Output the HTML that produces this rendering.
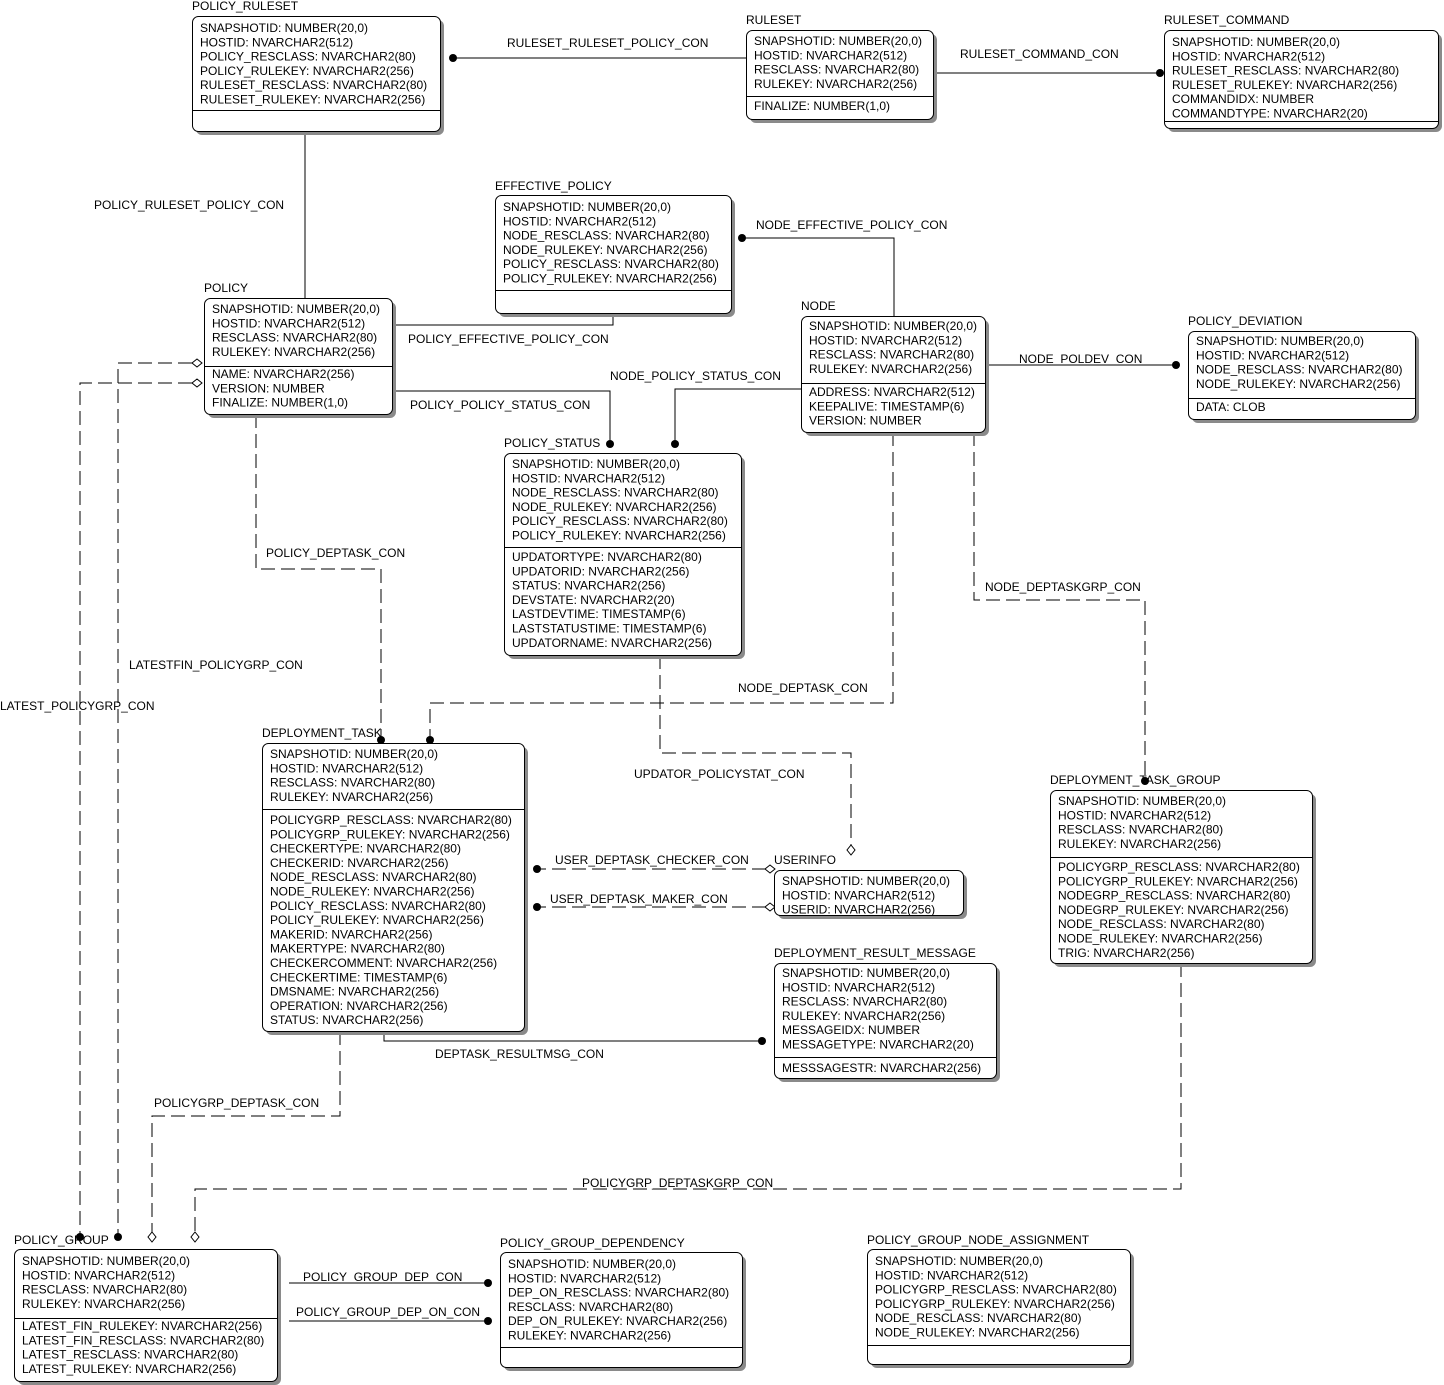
<!DOCTYPE html>
<html><head><meta charset="utf-8"><style>
html,body{margin:0;padding:0;background:#fff}
svg{display:block}
text{font-family:"Liberation Sans",Arial,sans-serif;font-size:12px;fill:#000}
.sh{fill:#8a8a8a}
.bx{fill:#fff;stroke:#000;stroke-width:1}
.ln{stroke:#000;stroke-width:1;fill:none}
.ds{stroke:#000;stroke-width:1;fill:none;stroke-dasharray:14 6}
</style></head><body>
<svg width="1444" height="1385" viewBox="0 0 1444 1385" xmlns="http://www.w3.org/2000/svg">

<!-- connectors -->
<path class="ln" d="M453,58H746"/><circle cx="453" cy="58" r="4"/>
<text x="507" y="47">RULESET_RULESET_POLICY_CON</text>
<path class="ln" d="M933,73H1160"/><circle cx="1160" cy="73" r="4"/>
<text x="960" y="58">RULESET_COMMAND_CON</text>
<path class="ln" d="M305,131V298"/>
<text x="94" y="209">POLICY_RULESET_POLICY_CON</text>
<path class="ln" d="M894,316V238H742"/><circle cx="742" cy="238" r="4"/>
<text x="756" y="229">NODE_EFFECTIVE_POLICY_CON</text>
<path class="ln" d="M392,325H613V313"/>
<text x="408" y="343">POLICY_EFFECTIVE_POLICY_CON</text>
<path class="ln" d="M985,365H1176"/><circle cx="1176" cy="365" r="4"/>
<text x="1019" y="363">NODE_POLDEV_CON</text>
<path class="ln" d="M801,389H675V444"/><circle cx="675" cy="444" r="4"/>
<text x="610" y="380">NODE_POLICY_STATUS_CON</text>
<path class="ln" d="M392,391H610V444"/><circle cx="610" cy="444" r="4"/>
<text x="410" y="409">POLICY_POLICY_STATUS_CON</text>
<path class="ds" d="M256,414V569H381V740"/><circle cx="381" cy="740" r="4"/>
<text x="266" y="557">POLICY_DEPTASK_CON</text>
<path class="ds" d="M974,432V600H1145V781"/><circle cx="1145" cy="781" r="4"/>
<text x="985" y="591">NODE_DEPTASKGRP_CON</text>
<path class="ds" d="M893,432V703H430V740"/><circle cx="430" cy="740" r="4"/>
<text x="738" y="692">NODE_DEPTASK_CON</text>
<path class="ds" d="M660,655V753H851V845"/><path class="bx" d="M851,845l4,5l-4,5l-4,-5z"/>
<text x="634" y="778">UPDATOR_POLICYSTAT_CON</text>
<path class="ds" d="M766,869H537"/><circle cx="537" cy="869" r="4"/><path class="bx" d="M775,869l-5,-4l-5,4l5,4z"/>
<text x="555" y="864">USER_DEPTASK_CHECKER_CON</text>
<path class="ds" d="M766,907H537"/><circle cx="537" cy="907" r="4"/><path class="bx" d="M775,907l-5,-4l-5,4l5,4z"/>
<text x="550" y="903">USER_DEPTASK_MAKER_CON</text>
<path class="ln" d="M384,1031V1041H762"/><circle cx="762" cy="1041" r="4"/>
<text x="435" y="1058">DEPTASK_RESULTMSG_CON</text>
<path class="ds" d="M340,1031V1116H152V1232"/><path class="bx" d="M152,1232l4,5l-4,5l-4,-5z"/>
<text x="154" y="1107">POLICYGRP_DEPTASK_CON</text>
<path class="ds" d="M1181,963V1189H195V1232"/><path class="bx" d="M195,1232l4,5l-4,5l-4,-5z"/>
<text x="582" y="1187">POLICYGRP_DEPTASKGRP_CON</text>
<path class="ds" d="M192,363H118V1237"/><circle cx="118" cy="1237" r="4"/><path class="bx" d="M202,363l-5,-4l-5,4l5,4z"/>
<text x="129" y="669">LATESTFIN_POLICYGRP_CON</text>
<path class="ds" d="M192,383H80V1237"/><circle cx="80" cy="1237" r="4"/><path class="bx" d="M202,383l-5,-4l-5,4l5,4z"/>
<text x="0" y="710">LATEST_POLICYGRP_CON</text>
<path class="ln" d="M289,1283H488"/><circle cx="488" cy="1283" r="4"/>
<text x="303" y="1281">POLICY_GROUP_DEP_CON</text>
<path class="ln" d="M289,1321H488"/><circle cx="488" cy="1321" r="4"/>
<text x="296" y="1316">POLICY_GROUP_DEP_ON_CON</text>

<!-- POLICY_RULESET -->
<text x="192" y="10">POLICY_RULESET</text>
<rect class="sh" x="196" y="20" width="248" height="115" rx="6"/>
<rect class="bx" x="192.5" y="16.5" width="248" height="115" rx="6"/>
<path class="ln" d="M193,110.5H440"/>
<text x="200" y="32"><tspan x="200">SNAPSHOTID: NUMBER(20,0)</tspan><tspan x="200" dy="14.3">HOSTID: NVARCHAR2(512)</tspan><tspan x="200" dy="14.3">POLICY_RESCLASS: NVARCHAR2(80)</tspan><tspan x="200" dy="14.3">POLICY_RULEKEY: NVARCHAR2(256)</tspan><tspan x="200" dy="14.3">RULESET_RESCLASS: NVARCHAR2(80)</tspan><tspan x="200" dy="14.3">RULESET_RULEKEY: NVARCHAR2(256)</tspan></text>

<!-- RULESET -->
<text x="746" y="24">RULESET</text>
<rect class="sh" x="750" y="34" width="187" height="89" rx="6"/>
<rect class="bx" x="746.5" y="30.5" width="187" height="89" rx="6"/>
<path class="ln" d="M747,96.5H933"/>
<text x="754" y="45"><tspan x="754">SNAPSHOTID: NUMBER(20,0)</tspan><tspan x="754" dy="14.3">HOSTID: NVARCHAR2(512)</tspan><tspan x="754" dy="14.3">RESCLASS: NVARCHAR2(80)</tspan><tspan x="754" dy="14.3">RULEKEY: NVARCHAR2(256)</tspan></text>
<text x="754" y="110">FINALIZE: NUMBER(1,0)</text>

<!-- RULESET_COMMAND -->
<text x="1164" y="24">RULESET_COMMAND</text>
<rect class="sh" x="1168" y="34" width="274" height="98" rx="6"/>
<rect class="bx" x="1164.5" y="30.5" width="274" height="98" rx="6"/>
<path class="ln" d="M1165,121.5H1438"/>
<text x="1172" y="46"><tspan x="1172">SNAPSHOTID: NUMBER(20,0)</tspan><tspan x="1172" dy="14.3">HOSTID: NVARCHAR2(512)</tspan><tspan x="1172" dy="14.3">RULESET_RESCLASS: NVARCHAR2(80)</tspan><tspan x="1172" dy="14.3">RULESET_RULEKEY: NVARCHAR2(256)</tspan><tspan x="1172" dy="14.3">COMMANDIDX: NUMBER</tspan><tspan x="1172" dy="14.3">COMMANDTYPE: NVARCHAR2(20)</tspan></text>

<!-- EFFECTIVE_POLICY -->
<text x="495" y="190">EFFECTIVE_POLICY</text>
<rect class="sh" x="499" y="199" width="236" height="118" rx="6"/>
<rect class="bx" x="495.5" y="195.5" width="236" height="118" rx="6"/>
<path class="ln" d="M496,290.5H731"/>
<text x="503" y="211"><tspan x="503">SNAPSHOTID: NUMBER(20,0)</tspan><tspan x="503" dy="14.3">HOSTID: NVARCHAR2(512)</tspan><tspan x="503" dy="14.3">NODE_RESCLASS: NVARCHAR2(80)</tspan><tspan x="503" dy="14.3">NODE_RULEKEY: NVARCHAR2(256)</tspan><tspan x="503" dy="14.3">POLICY_RESCLASS: NVARCHAR2(80)</tspan><tspan x="503" dy="14.3">POLICY_RULEKEY: NVARCHAR2(256)</tspan></text>

<!-- POLICY -->
<text x="204" y="292">POLICY</text>
<rect class="sh" x="208" y="302" width="188" height="116" rx="6"/>
<rect class="bx" x="204.5" y="298.5" width="188" height="116" rx="6"/>
<path class="ln" d="M205,366.5H392"/>
<text x="212" y="313"><tspan x="212">SNAPSHOTID: NUMBER(20,0)</tspan><tspan x="212" dy="14.3">HOSTID: NVARCHAR2(512)</tspan><tspan x="212" dy="14.3">RESCLASS: NVARCHAR2(80)</tspan><tspan x="212" dy="14.3">RULEKEY: NVARCHAR2(256)</tspan></text>
<text x="212" y="378"><tspan x="212">NAME: NVARCHAR2(256)</tspan><tspan x="212" dy="14.3">VERSION: NUMBER</tspan><tspan x="212" dy="14.3">FINALIZE: NUMBER(1,0)</tspan></text>

<!-- NODE -->
<text x="801" y="310">NODE</text>
<rect class="sh" x="805" y="320" width="184" height="116" rx="6"/>
<rect class="bx" x="801.5" y="316.5" width="184" height="116" rx="6"/>
<path class="ln" d="M802,383.5H985"/>
<text x="809" y="330"><tspan x="809">SNAPSHOTID: NUMBER(20,0)</tspan><tspan x="809" dy="14.3">HOSTID: NVARCHAR2(512)</tspan><tspan x="809" dy="14.3">RESCLASS: NVARCHAR2(80)</tspan><tspan x="809" dy="14.3">RULEKEY: NVARCHAR2(256)</tspan></text>
<text x="809" y="396"><tspan x="809">ADDRESS: NVARCHAR2(512)</tspan><tspan x="809" dy="14.3">KEEPALIVE: TIMESTAMP(6)</tspan><tspan x="809" dy="14.3">VERSION: NUMBER</tspan></text>

<!-- POLICY_DEVIATION -->
<text x="1188" y="325">POLICY_DEVIATION</text>
<rect class="sh" x="1192" y="335" width="227" height="88" rx="6"/>
<rect class="bx" x="1188.5" y="331.5" width="227" height="88" rx="6"/>
<path class="ln" d="M1189,398.5H1415"/>
<text x="1196" y="345"><tspan x="1196">SNAPSHOTID: NUMBER(20,0)</tspan><tspan x="1196" dy="14.3">HOSTID: NVARCHAR2(512)</tspan><tspan x="1196" dy="14.3">NODE_RESCLASS: NVARCHAR2(80)</tspan><tspan x="1196" dy="14.3">NODE_RULEKEY: NVARCHAR2(256)</tspan></text>
<text x="1196" y="411">DATA: CLOB</text>

<!-- POLICY_STATUS -->
<text x="504" y="447">POLICY_STATUS</text>
<rect class="sh" x="508" y="457" width="237" height="202" rx="6"/>
<rect class="bx" x="504.5" y="453.5" width="237" height="202" rx="6"/>
<path class="ln" d="M505,547.5H741"/>
<text x="512" y="468"><tspan x="512">SNAPSHOTID: NUMBER(20,0)</tspan><tspan x="512" dy="14.3">HOSTID: NVARCHAR2(512)</tspan><tspan x="512" dy="14.3">NODE_RESCLASS: NVARCHAR2(80)</tspan><tspan x="512" dy="14.3">NODE_RULEKEY: NVARCHAR2(256)</tspan><tspan x="512" dy="14.3">POLICY_RESCLASS: NVARCHAR2(80)</tspan><tspan x="512" dy="14.3">POLICY_RULEKEY: NVARCHAR2(256)</tspan></text>
<text x="512" y="561"><tspan x="512">UPDATORTYPE: NVARCHAR2(80)</tspan><tspan x="512" dy="14.3">UPDATORID: NVARCHAR2(256)</tspan><tspan x="512" dy="14.3">STATUS: NVARCHAR2(256)</tspan><tspan x="512" dy="14.3">DEVSTATE: NVARCHAR2(20)</tspan><tspan x="512" dy="14.3">LASTDEVTIME: TIMESTAMP(6)</tspan><tspan x="512" dy="14.3">LASTSTATUSTIME: TIMESTAMP(6)</tspan><tspan x="512" dy="14.3">UPDATORNAME: NVARCHAR2(256)</tspan></text>

<!-- DEPLOYMENT_TASK -->
<text x="262" y="737">DEPLOYMENT_TASK</text>
<rect class="sh" x="266" y="747" width="262" height="288" rx="6"/>
<rect class="bx" x="262.5" y="743.5" width="262" height="288" rx="6"/>
<path class="ln" d="M263,809.5H524"/>
<text x="270" y="758"><tspan x="270">SNAPSHOTID: NUMBER(20,0)</tspan><tspan x="270" dy="14.3">HOSTID: NVARCHAR2(512)</tspan><tspan x="270" dy="14.3">RESCLASS: NVARCHAR2(80)</tspan><tspan x="270" dy="14.3">RULEKEY: NVARCHAR2(256)</tspan></text>
<text x="270" y="824"><tspan x="270">POLICYGRP_RESCLASS: NVARCHAR2(80)</tspan><tspan x="270" dy="14.3">POLICYGRP_RULEKEY: NVARCHAR2(256)</tspan><tspan x="270" dy="14.3">CHECKERTYPE: NVARCHAR2(80)</tspan><tspan x="270" dy="14.3">CHECKERID: NVARCHAR2(256)</tspan><tspan x="270" dy="14.3">NODE_RESCLASS: NVARCHAR2(80)</tspan><tspan x="270" dy="14.3">NODE_RULEKEY: NVARCHAR2(256)</tspan><tspan x="270" dy="14.3">POLICY_RESCLASS: NVARCHAR2(80)</tspan><tspan x="270" dy="14.3">POLICY_RULEKEY: NVARCHAR2(256)</tspan><tspan x="270" dy="14.3">MAKERID: NVARCHAR2(256)</tspan><tspan x="270" dy="14.3">MAKERTYPE: NVARCHAR2(80)</tspan><tspan x="270" dy="14.3">CHECKERCOMMENT: NVARCHAR2(256)</tspan><tspan x="270" dy="14.3">CHECKERTIME: TIMESTAMP(6)</tspan><tspan x="270" dy="14.3">DMSNAME: NVARCHAR2(256)</tspan><tspan x="270" dy="14.3">OPERATION: NVARCHAR2(256)</tspan><tspan x="270" dy="14.3">STATUS: NVARCHAR2(256)</tspan></text>

<!-- USERINFO -->
<text x="774" y="864">USERINFO</text>
<rect class="sh" x="778" y="874" width="189" height="45" rx="6"/>
<rect class="bx" x="774.5" y="870.5" width="189" height="45" rx="6"/>
<text x="782" y="885"><tspan x="782">SNAPSHOTID: NUMBER(20,0)</tspan><tspan x="782" dy="14.3">HOSTID: NVARCHAR2(512)</tspan><tspan x="782" dy="14.3">USERID: NVARCHAR2(256)</tspan></text>

<!-- DEPLOYMENT_RESULT_MESSAGE -->
<text x="774" y="957">DEPLOYMENT_RESULT_MESSAGE</text>
<rect class="sh" x="778" y="967" width="222" height="115" rx="6"/>
<rect class="bx" x="774.5" y="963.5" width="222" height="115" rx="6"/>
<path class="ln" d="M775,1057.5H996"/>
<text x="782" y="977"><tspan x="782">SNAPSHOTID: NUMBER(20,0)</tspan><tspan x="782" dy="14.3">HOSTID: NVARCHAR2(512)</tspan><tspan x="782" dy="14.3">RESCLASS: NVARCHAR2(80)</tspan><tspan x="782" dy="14.3">RULEKEY: NVARCHAR2(256)</tspan><tspan x="782" dy="14.3">MESSAGEIDX: NUMBER</tspan><tspan x="782" dy="14.3">MESSAGETYPE: NVARCHAR2(20)</tspan></text>
<text x="782" y="1072">MESSSAGESTR: NVARCHAR2(256)</text>

<!-- DEPLOYMENT_TASK_GROUP -->
<text x="1050" y="784">DEPLOYMENT_TASK_GROUP</text>
<rect class="sh" x="1054" y="794" width="262" height="173" rx="6"/>
<rect class="bx" x="1050.5" y="790.5" width="262" height="173" rx="6"/>
<path class="ln" d="M1051,857.5H1312"/>
<text x="1058" y="805"><tspan x="1058">SNAPSHOTID: NUMBER(20,0)</tspan><tspan x="1058" dy="14.3">HOSTID: NVARCHAR2(512)</tspan><tspan x="1058" dy="14.3">RESCLASS: NVARCHAR2(80)</tspan><tspan x="1058" dy="14.3">RULEKEY: NVARCHAR2(256)</tspan></text>
<text x="1058" y="871"><tspan x="1058">POLICYGRP_RESCLASS: NVARCHAR2(80)</tspan><tspan x="1058" dy="14.3">POLICYGRP_RULEKEY: NVARCHAR2(256)</tspan><tspan x="1058" dy="14.3">NODEGRP_RESCLASS: NVARCHAR2(80)</tspan><tspan x="1058" dy="14.3">NODEGRP_RULEKEY: NVARCHAR2(256)</tspan><tspan x="1058" dy="14.3">NODE_RESCLASS: NVARCHAR2(80)</tspan><tspan x="1058" dy="14.3">NODE_RULEKEY: NVARCHAR2(256)</tspan><tspan x="1058" dy="14.3">TRIG: NVARCHAR2(256)</tspan></text>

<!-- POLICY_GROUP -->
<text x="14" y="1244">POLICY_GROUP</text>
<rect class="sh" x="18" y="1253" width="263" height="132" rx="6"/>
<rect class="bx" x="14.5" y="1249.5" width="263" height="132" rx="6"/>
<path class="ln" d="M15,1318.5H277"/>
<text x="22" y="1265"><tspan x="22">SNAPSHOTID: NUMBER(20,0)</tspan><tspan x="22" dy="14.3">HOSTID: NVARCHAR2(512)</tspan><tspan x="22" dy="14.3">RESCLASS: NVARCHAR2(80)</tspan><tspan x="22" dy="14.3">RULEKEY: NVARCHAR2(256)</tspan></text>
<text x="22" y="1330"><tspan x="22">LATEST_FIN_RULEKEY: NVARCHAR2(256)</tspan><tspan x="22" dy="14.3">LATEST_FIN_RESCLASS: NVARCHAR2(80)</tspan><tspan x="22" dy="14.3">LATEST_RESCLASS: NVARCHAR2(80)</tspan><tspan x="22" dy="14.3">LATEST_RULEKEY: NVARCHAR2(256)</tspan></text>

<!-- POLICY_GROUP_DEPENDENCY -->
<text x="500" y="1247">POLICY_GROUP_DEPENDENCY</text>
<rect class="sh" x="504" y="1256" width="242" height="115" rx="6"/>
<rect class="bx" x="500.5" y="1252.5" width="242" height="115" rx="6"/>
<path class="ln" d="M501,1347.5H742"/>
<text x="508" y="1268"><tspan x="508">SNAPSHOTID: NUMBER(20,0)</tspan><tspan x="508" dy="14.3">HOSTID: NVARCHAR2(512)</tspan><tspan x="508" dy="14.3">DEP_ON_RESCLASS: NVARCHAR2(80)</tspan><tspan x="508" dy="14.3">RESCLASS: NVARCHAR2(80)</tspan><tspan x="508" dy="14.3">DEP_ON_RULEKEY: NVARCHAR2(256)</tspan><tspan x="508" dy="14.3">RULEKEY: NVARCHAR2(256)</tspan></text>

<!-- POLICY_GROUP_NODE_ASSIGNMENT -->
<text x="867" y="1244">POLICY_GROUP_NODE_ASSIGNMENT</text>
<rect class="sh" x="871" y="1253" width="263" height="115" rx="6"/>
<rect class="bx" x="867.5" y="1249.5" width="263" height="115" rx="6"/>
<path class="ln" d="M868,1345.5H1130"/>
<text x="875" y="1265"><tspan x="875">SNAPSHOTID: NUMBER(20,0)</tspan><tspan x="875" dy="14.3">HOSTID: NVARCHAR2(512)</tspan><tspan x="875" dy="14.3">POLICYGRP_RESCLASS: NVARCHAR2(80)</tspan><tspan x="875" dy="14.3">POLICYGRP_RULEKEY: NVARCHAR2(256)</tspan><tspan x="875" dy="14.3">NODE_RESCLASS: NVARCHAR2(80)</tspan><tspan x="875" dy="14.3">NODE_RULEKEY: NVARCHAR2(256)</tspan></text>
</svg>
</body></html>
